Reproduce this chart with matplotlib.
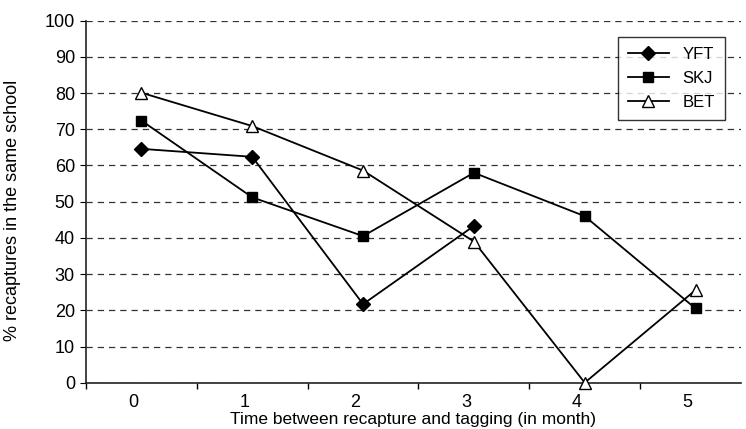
import numpy as np
import matplotlib
matplotlib.use('Agg')
import matplotlib.pyplot as plt
import matplotlib.transforms as mtransforms

plt.rcParams['font.family'] = ['Liberation Sans', 'DejaVu Sans']

months = [0, 1, 2, 3, 4, 5]
yft = [64.6, 62.4, 21.7, 43.3, np.nan, np.nan]
skj = [72.4, 51.2, 40.5, 58.0, 46.0, 20.5]
bet = [80.1, 70.9, 58.6, 39.0, 0.0, 25.6]
yticks = list(range(0, 101, 10))

W, H = 746, 429
fig = plt.figure(figsize=(W / 100, H / 100), dpi=100)
ax = fig.add_axes([86 / W, (H - 382.7) / H, (741 - 86) / W, (382.7 - 20.7) / H])

x = np.arange(len(months))
ax.plot(x, yft, color='black', lw=1.3, marker='D', ms=7, mfc='black', mec='black',
        label='YFT', clip_on=False, zorder=3)
ax.plot(x, skj, color='black', lw=1.3, marker='s', ms=7, mfc='black', mec='black',
        label='SKJ', clip_on=False, zorder=3)
ax.plot(x, bet, color='black', lw=1.3, marker='^', ms=9, mfc='white', mec='black', mew=1.0,
        label='BET', clip_on=False, zorder=3)

ax.set_xlim(-0.5, 5.41)
ax.set_ylim(0, 100)
ax.set_yticks(yticks)
ax.yaxis.grid(True, linestyle=(0, (5, 4)), color='#333333', lw=0.9)
ax.set_axisbelow(True)

ax.set_xticks(x)
ax.set_xticklabels([str(m) for m in months])
ax.set_xticks(np.arange(-0.5, 5.5, 1), minor=True)
ax.tick_params(axis='x', which='major', length=0, labelsize=13, pad=8)
ax.tick_params(axis='x', which='minor', length=4, direction='out', width=1)
ax.tick_params(axis='y', length=4, direction='out', labelsize=13, pad=4)
offset = mtransforms.ScaledTranslation(-8 / 100, 0, fig.dpi_scale_trans)
for lab in ax.get_xticklabels():
    lab.set_transform(lab.get_transform() + offset)

for side in ['top', 'right']:
    ax.spines[side].set_visible(False)
ax.spines['left'].set_color('#222222')
ax.spines['bottom'].set_color('#222222')
ax.spines['left'].set_linewidth(1.2)
ax.spines['bottom'].set_linewidth(1.2)

ax.set_xlabel('Time between recapture and tagging (in month)', fontsize=12.5, labelpad=1)
ax.set_ylabel('% recaptures in the same school', fontsize=13)
ax.yaxis.set_label_coords((21 - 86) / 655, (382.7 - 210) / 362)

leg = ax.legend(loc='upper right', bbox_to_anchor=((725 - 86) / 655, (382.7 - 37) / 362),
                borderaxespad=0, fontsize=12, frameon=True, fancybox=False, edgecolor='black',
                handlelength=2.5, borderpad=0.6, labelspacing=0.55, handletextpad=0.8)
leg.get_frame().set_linewidth(1.0)

fig.savefig('out.png', dpi=100)
